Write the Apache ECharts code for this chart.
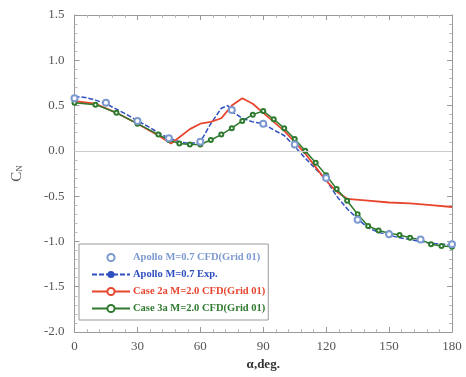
<!DOCTYPE html>
<html>
<head>
<meta charset="utf-8">
<script src="https://cdn.jsdelivr.net/npm/echarts@6/dist/echarts.min.js"></script>
<style>
html,body{margin:0;padding:0;background:#fff;}
#chart{width:466px;height:377px;}
</style>
</head>
<body>
<div id="chart"></div>
<script>
// Normal-force coefficient vs. angle of attack
const apolloCfdAlpha = [0, 15, 30, 45, 60, 75, 90, 105, 120, 135, 150, 165, 180];
const apolloCfdCn    = [0.58, 0.53, 0.33, 0.14, 0.1, 0.45, 0.3, 0.07, -0.3, -0.76, -0.92, -0.98, -1.03];

const apolloExpAlpha = [0, 5, 10, 15, 20, 25, 30, 35, 40, 45, 50, 55, 60, 65, 70, 73, 76, 80, 85, 90, 95, 100, 105, 110, 115, 120, 125, 130, 135, 140, 145, 150, 155, 160, 165, 170, 175, 180];
const apolloExpCn    = [0.6, 0.59, 0.56, 0.52, 0.46, 0.4, 0.33, 0.27, 0.2, 0.14, 0.1, 0.08, 0.1, 0.3, 0.47, 0.5, 0.42, 0.36, 0.32, 0.3, 0.23, 0.17, 0.05, -0.08, -0.2, -0.32, -0.5, -0.64, -0.75, -0.85, -0.9, -0.93, -0.96, -0.98, -1.0, -1.02, -1.03, -1.04];

const case2aAlpha = [0, 10, 20, 30, 40, 46, 50, 55, 60, 65, 70, 75, 80, 85, 90, 95, 100, 105, 110, 115, 120, 125, 130, 140, 150, 160, 170, 180];
const case2aCn    = [0.55, 0.52, 0.42, 0.3, 0.17, 0.08, 0.15, 0.24, 0.3, 0.32, 0.36, 0.5, 0.58, 0.52, 0.42, 0.32, 0.22, 0.1, -0.03, -0.18, -0.33, -0.45, -0.53, -0.55, -0.57, -0.58, -0.6, -0.62];

const case3aAlpha = [0, 10, 20, 30, 40, 45, 50, 55, 60, 65, 70, 75, 80, 85, 90, 95, 100, 105, 110, 115, 120, 125, 130, 135, 140, 145, 150, 155, 160, 165, 170, 175, 180];
const case3aCn    = [0.53, 0.51, 0.42, 0.3, 0.18, 0.12, 0.08, 0.07, 0.07, 0.12, 0.18, 0.25, 0.33, 0.4, 0.44, 0.35, 0.25, 0.13, 0.0, -0.13, -0.27, -0.42, -0.55, -0.7, -0.83, -0.88, -0.91, -0.93, -0.96, -0.98, -1.03, -1.05, -1.06];

const xTicks = [0, 30, 60, 90, 120, 150, 180];
const yTicks = [-2.0, -1.5, -1.0, -0.5, 0.0, 0.5, 1.0, 1.5];

const names = [
  'Apollo M=0.7 CFD(Grid 01)',
  'Apollo M=0.7 Exp.',
  'Case 2a M=2.0 CFD(Grid 01)',
  'Case 3a M=2.0 CFD(Grid 01)'
];
const colors = ['#7d9ad0', '#2f4fc0', '#e8452e', '#2e7a2e'];

const pairs = (xs, ys) => xs.map((x, i) => [x, ys[i]]);
const serif = '"Liberation Serif", "DejaVu Serif", serif';

const axisCommon = {
  axisLine: { show: true, onZero: false, lineStyle: { color: '#999', width: 1 } },
  axisTick: { show: true, inside: true, length: 5, lineStyle: { color: '#999' } },
  minorTick: { show: true, splitNumber: 5, length: 3, lineStyle: { color: '#bbb' } },
  splitLine: { show: false }
};

const chart = echarts.init(document.getElementById('chart'), null, { renderer: 'canvas' });
chart.setOption({
  backgroundColor: '#fff',
  animation: false,
  grid: { left: 74.5, right: 14, top: 15, bottom: 45 },
  xAxis: [
    Object.assign({}, axisCommon, {
      type: 'value', min: xTicks[0], max: xTicks[xTicks.length - 1], interval: 30,
      position: 'bottom',
      name: 'α,deg.', nameLocation: 'middle', nameGap: 25,
      nameTextStyle: { fontFamily: serif, fontWeight: 'bold', fontSize: 13, color: '#333' },
      axisLabel: { fontFamily: serif, fontSize: 13, color: '#555', margin: 8 }
    }),
    Object.assign({}, axisCommon, {
      type: 'value', min: xTicks[0], max: xTicks[xTicks.length - 1], interval: 30,
      position: 'top', axisLabel: { show: false }
    })
  ],
  yAxis: [
    Object.assign({}, axisCommon, {
      type: 'value', min: yTicks[0], max: yTicks[yTicks.length - 1], interval: 0.5,
      position: 'left',
      name: 'C{s|N}', nameLocation: 'middle', nameGap: 50, nameRotate: 90,
      nameTextStyle: {
        fontFamily: serif, fontSize: 15, color: '#555',
        rich: { s: { fontFamily: serif, fontSize: 9, color: '#555', verticalAlign: 'bottom' } }
      },
      axisLabel: { fontFamily: serif, fontSize: 13, color: '#555', margin: 10,
        formatter: v => v.toFixed(1) }
    }),
    Object.assign({}, axisCommon, {
      type: 'value', min: yTicks[0], max: yTicks[yTicks.length - 1], interval: 0.5,
      position: 'right', axisLabel: { show: false }
    })
  ],
  legend: {
    orient: 'vertical',
    left: 79, top: 244,
    padding: [8, 3, 6, 12],
    itemGap: 6,
    itemWidth: 38, itemHeight: 9,
    backgroundColor: '#fff',
    borderColor: '#999', borderWidth: 1,
    textStyle: { fontFamily: serif, fontSize: 10.5, fontWeight: 'bold', padding: [0, 0, 0, -2] },
    data: names.map((n, i) => ({ name: n, textStyle: { color: colors[i] } }))
  },
  series: [
    {
      name: names[0], type: 'line', data: pairs(apolloCfdAlpha, apolloCfdCn),
      lineStyle: { width: 0, opacity: 0 },
      symbol: 'emptyCircle', symbolSize: 6, showSymbol: true,
      itemStyle: { color: colors[0], borderWidth: 1 },
      z: 5,
      markLine: {
        silent: true, symbol: 'none', label: { show: false },
        lineStyle: { color: '#ccc', type: 'solid', width: 1 },
        data: [{ yAxis: 0 }]
      }
    },
    {
      name: names[1], type: 'line', data: pairs(apolloExpAlpha, apolloExpCn),
      showSymbol: false, symbol: 'none',
      lineStyle: { color: colors[1], width: 1.5, type: [5, 2] },
      itemStyle: { color: colors[1] }, z: 3
    },
    {
      name: names[2], type: 'line', data: pairs(case2aAlpha, case2aCn),
      symbol: 'emptyCircle', symbolSize: 3, showSymbol: false,
      lineStyle: { color: colors[2], width: 1.8 },
      itemStyle: { color: colors[2] }, z: 4
    },
    {
      name: names[3], type: 'line', data: pairs(case3aAlpha, case3aCn),
      symbol: 'emptyCircle', symbolSize: 4, showSymbol: true,
      lineStyle: { color: colors[3], width: 1.5 },
      itemStyle: { color: colors[3], borderWidth: 1 }, z: 4
    }
  ]
});
</script>
</body>
</html>
